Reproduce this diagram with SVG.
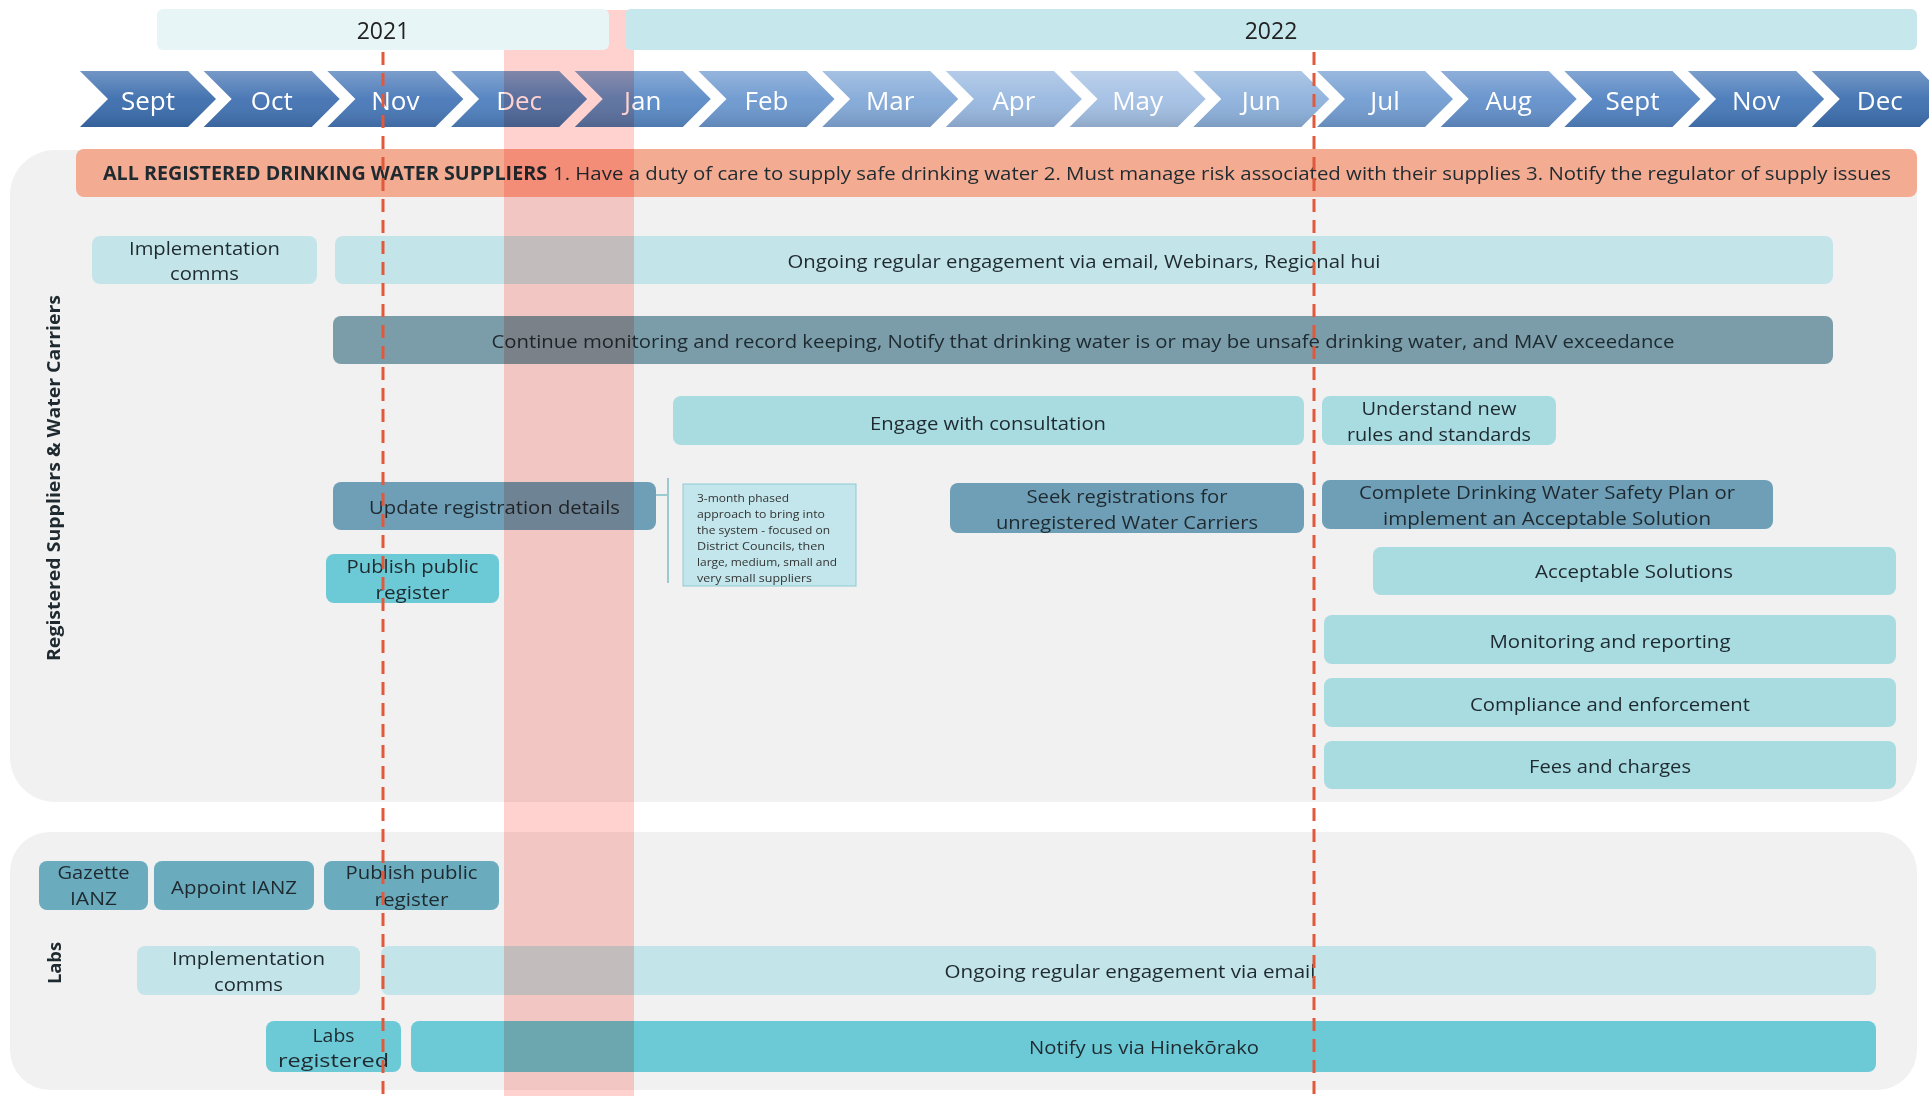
<svg xmlns="http://www.w3.org/2000/svg" width="1929" height="1096" viewBox="0 0 1929 1096">
<style>
text{font-family:"Open Sans","Liberation Sans",sans-serif;fill:#1f2a30;}
.t{font-size:18px;text-anchor:middle;dominant-baseline:central;}
.m{font-size:26px;fill:#ffffff;text-anchor:middle;dominant-baseline:central;}
.y{font-size:23px;fill:#222;text-anchor:middle;dominant-baseline:central;}
.n{font-size:11.5px;dominant-baseline:central;fill:#333;}
.light{fill:#c3e5e9;}
.teal{fill:#a8dce1;}
.dark{fill:#7a9da9;}
.mid{fill:#6e9fb6;}
.cyan{fill:#6ccad6;}
.lab{fill:#6aabbd;}
.dash{stroke:#e2583a;stroke-width:3;stroke-dasharray:13 8;fill:none;}
.band{fill:#ffd2cf;mix-blend-mode:multiply;}
</style>
<defs>
<linearGradient id="shine" x1="0" y1="0" x2="0" y2="1">
<stop offset="0" stop-color="#ffffff" stop-opacity="0.28"/>
<stop offset="0.5" stop-color="#ffffff" stop-opacity="0.05"/>
<stop offset="1" stop-color="#000000" stop-opacity="0.12"/>
</linearGradient>
<path id="chev" d="M0,71 L108,71 L136,99 L108,127 L0,127 L28,99 Z"/>
</defs>
<rect width="1929" height="1096" fill="#ffffff"/>
<g id="panels">
<rect x="10" y="150" width="1907" height="652" rx="45" fill="#f1f1f1"/>
<rect x="10" y="832" width="1907" height="258" rx="40" fill="#f1f1f1"/>
</g>
<g id="months">
<g transform="translate(80,0)"><use href="#chev" fill="#3b6dad"/><use href="#chev" fill="url(#shine)"/><text class="m" x="68" y="100">Sept</text></g>
<g transform="translate(203.7,0)"><use href="#chev" fill="#4272b2"/><use href="#chev" fill="url(#shine)"/><text class="m" x="68" y="100">Oct</text></g>
<g transform="translate(327.4,0)"><use href="#chev" fill="#4878b8"/><use href="#chev" fill="url(#shine)"/><text class="m" x="68" y="100">Nov</text></g>
<g transform="translate(451.1,0)"><use href="#chev" fill="#4f80bf"/><use href="#chev" fill="url(#shine)"/><text class="m" x="68" y="100">Dec</text></g>
<g transform="translate(574.8,0)"><use href="#chev" fill="#5a8ac6"/><use href="#chev" fill="url(#shine)"/><text class="m" x="68" y="100">Jan</text></g>
<g transform="translate(698.5,0)"><use href="#chev" fill="#6c98cf"/><use href="#chev" fill="url(#shine)"/><text class="m" x="68" y="100">Feb</text></g>
<g transform="translate(822.2,0)"><use href="#chev" fill="#83a9d8"/><use href="#chev" fill="url(#shine)"/><text class="m" x="68" y="100">Mar</text></g>
<g transform="translate(945.9,0)"><use href="#chev" fill="#98b8e0"/><use href="#chev" fill="url(#shine)"/><text class="m" x="68" y="100">Apr</text></g>
<g transform="translate(1069.6,0)"><use href="#chev" fill="#a2bfe3"/><use href="#chev" fill="url(#shine)"/><text class="m" x="68" y="100">May</text></g>
<g transform="translate(1193.3,0)"><use href="#chev" fill="#8db1dc"/><use href="#chev" fill="url(#shine)"/><text class="m" x="68" y="100">Jun</text></g>
<g transform="translate(1317,0)"><use href="#chev" fill="#729dd2"/><use href="#chev" fill="url(#shine)"/><text class="m" x="68" y="100">Jul</text></g>
<g transform="translate(1440.7,0)"><use href="#chev" fill="#6390cb"/><use href="#chev" fill="url(#shine)"/><text class="m" x="68" y="100">Aug</text></g>
<g transform="translate(1564.4,0)"><use href="#chev" fill="#5283c2"/><use href="#chev" fill="url(#shine)"/><text class="m" x="68" y="100">Sept</text></g>
<g transform="translate(1688.1,0)"><use href="#chev" fill="#4679b9"/><use href="#chev" fill="url(#shine)"/><text class="m" x="68" y="100">Nov</text></g>
<g transform="translate(1811.8,0)"><use href="#chev" fill="#3e70b0"/><use href="#chev" fill="url(#shine)"/><text class="m" x="68" y="100">Dec</text></g>
</g>
<g id="header">
<rect x="76" y="149" width="1841" height="48" rx="8" fill="#f3ab92"/>
<text x="103" y="173" font-size="19" font-weight="bold" dominant-baseline="central" textLength="444" lengthAdjust="spacingAndGlyphs">ALL REGISTERED DRINKING WATER SUPPLIERS</text>
<text x="553" y="173" font-size="19" dominant-baseline="central" textLength="1338" lengthAdjust="spacingAndGlyphs">1. Have a duty of care to supply safe drinking water 2. Must manage risk associated with their supplies 3. Notify the regulator of supply issues</text>
</g>
<g id="lane-labels">
<text transform="translate(53,478) rotate(-90)" font-size="18" font-weight="bold" text-anchor="middle" dominant-baseline="central" textLength="366" lengthAdjust="spacingAndGlyphs">Registered Suppliers &amp; Water Carriers</text>
<text transform="translate(54,963) rotate(-90)" font-size="18" font-weight="bold" text-anchor="middle" dominant-baseline="central" textLength="42" lengthAdjust="spacingAndGlyphs">Labs</text>
</g>
<g id="impl-comms-suppliers"><rect class="light" x="92" y="236" width="225" height="48" rx="8"/><text class="t" x="204.5" y="248" textLength="151" lengthAdjust="spacingAndGlyphs">Implementation</text><text class="t" x="204.5" y="273" textLength="69" lengthAdjust="spacingAndGlyphs">comms</text></g>
<g id="ongoing-suppliers"><rect class="light" x="335" y="236" width="1498" height="48" rx="8"/><text class="t" x="1084" y="261" textLength="593" lengthAdjust="spacingAndGlyphs">Ongoing regular engagement via email, Webinars, Regional hui</text></g>
<g id="continue-monitoring"><rect class="dark" x="333" y="316" width="1500" height="48" rx="8"/><text class="t" x="1083" y="341" textLength="1183" lengthAdjust="spacingAndGlyphs">Continue monitoring and record keeping, Notify that drinking water is or may be unsafe drinking water, and MAV exceedance</text></g>
<g id="engage"><rect class="teal" x="673" y="396" width="631" height="49" rx="8"/><text class="t" x="988" y="423" textLength="236" lengthAdjust="spacingAndGlyphs">Engage with consultation</text></g>
<g id="understand"><rect class="teal" x="1322" y="396" width="234" height="49" rx="8"/><text class="t" x="1439" y="408" textLength="155" lengthAdjust="spacingAndGlyphs">Understand new</text><text class="t" x="1439" y="434" textLength="184" lengthAdjust="spacingAndGlyphs">rules and standards</text></g>
<g id="update-registration"><rect class="mid" x="333" y="482" width="323" height="48" rx="8"/><text class="t" x="494.5" y="507" textLength="251" lengthAdjust="spacingAndGlyphs">Update registration details</text></g>
<g id="phased-note">
<rect x="683" y="484" width="173" height="102" fill="#c2e6eb" stroke="#8fcad2" stroke-width="1"/>
<text class="n" x="697" y="497" textLength="92" lengthAdjust="spacingAndGlyphs">3-month phased</text>
<text class="n" x="697" y="513" textLength="128" lengthAdjust="spacingAndGlyphs">approach to bring into</text>
<text class="n" x="697" y="529" textLength="133" lengthAdjust="spacingAndGlyphs">the system - focused on</text>
<text class="n" x="697" y="545" textLength="128" lengthAdjust="spacingAndGlyphs">District Councils, then</text>
<text class="n" x="697" y="561" textLength="140" lengthAdjust="spacingAndGlyphs">large, medium, small and</text>
<text class="n" x="697" y="577" textLength="115" lengthAdjust="spacingAndGlyphs">very small suppliers</text>
</g>
<g id="seek-registrations"><rect class="mid" x="950" y="483" width="354" height="50" rx="8"/><text class="t" x="1127" y="496" textLength="201" lengthAdjust="spacingAndGlyphs">Seek registrations for</text><text class="t" x="1127" y="522" textLength="262" lengthAdjust="spacingAndGlyphs">unregistered Water Carriers</text></g>
<g id="complete-dwsp"><rect class="mid" x="1322" y="480" width="451" height="49" rx="8"/><text class="t" x="1547" y="492" textLength="376" lengthAdjust="spacingAndGlyphs">Complete Drinking Water Safety Plan or</text><text class="t" x="1547" y="518" textLength="328" lengthAdjust="spacingAndGlyphs">implement an Acceptable Solution</text></g>
<g id="publish-register-suppliers"><rect class="cyan" x="326" y="554" width="173" height="49" rx="8"/><text class="t" x="412.5" y="566" textLength="132" lengthAdjust="spacingAndGlyphs">Publish public</text><text class="t" x="412.5" y="592" textLength="74" lengthAdjust="spacingAndGlyphs">register</text></g>
<g id="acceptable-solutions"><rect class="teal" x="1373" y="547" width="523" height="48" rx="8"/><text class="t" x="1634" y="571" textLength="198" lengthAdjust="spacingAndGlyphs">Acceptable Solutions</text></g>
<g id="monitoring-reporting"><rect class="teal" x="1324" y="615" width="572" height="49" rx="8"/><text class="t" x="1610" y="641" textLength="241" lengthAdjust="spacingAndGlyphs">Monitoring and reporting</text></g>
<g id="compliance"><rect class="teal" x="1324" y="678" width="572" height="49" rx="8"/><text class="t" x="1610" y="704" textLength="280" lengthAdjust="spacingAndGlyphs">Compliance and enforcement</text></g>
<g id="fees"><rect class="teal" x="1324" y="741" width="572" height="48" rx="8"/><text class="t" x="1610" y="766" textLength="162" lengthAdjust="spacingAndGlyphs">Fees and charges</text></g>
<g id="gazette-ianz"><rect class="lab" x="39" y="861" width="109" height="49" rx="8"/><text class="t" x="93.5" y="872" textLength="72" lengthAdjust="spacingAndGlyphs">Gazette</text><text class="t" x="93.5" y="898" textLength="47" lengthAdjust="spacingAndGlyphs">IANZ</text></g>
<g id="appoint-ianz"><rect class="lab" x="154" y="861" width="160" height="49" rx="8"/><text class="t" x="234" y="887" textLength="126" lengthAdjust="spacingAndGlyphs">Appoint IANZ</text></g>
<g id="publish-register-labs"><rect class="lab" x="324" y="861" width="175" height="49" rx="8"/><text class="t" x="411.5" y="872" textLength="132" lengthAdjust="spacingAndGlyphs">Publish public</text><text class="t" x="411.5" y="899" textLength="74" lengthAdjust="spacingAndGlyphs">register</text></g>
<g id="impl-comms-labs"><rect class="light" x="137" y="946" width="223" height="49" rx="8"/><text class="t" x="248.5" y="958" textLength="153" lengthAdjust="spacingAndGlyphs">Implementation</text><text class="t" x="248.5" y="984" textLength="69" lengthAdjust="spacingAndGlyphs">comms</text></g>
<g id="ongoing-labs"><rect class="light" x="381" y="946" width="1495" height="49" rx="8"/><text class="t" x="1130" y="971" textLength="371" lengthAdjust="spacingAndGlyphs">Ongoing regular engagement via email</text></g>
<g id="labs-registered"><rect class="cyan" x="266" y="1021" width="135" height="51" rx="8"/><text class="t" x="333.5" y="1035" textLength="42" lengthAdjust="spacingAndGlyphs">Labs</text><text class="t" x="333.5" y="1060" textLength="111" lengthAdjust="spacingAndGlyphs">registered</text></g>
<g id="notify-hinekorako"><rect class="cyan" x="411" y="1021" width="1465" height="51" rx="8"/><text class="t" x="1144" y="1047" textLength="230" lengthAdjust="spacingAndGlyphs">Notify us via Hinekōrako</text></g>
<g id="connectors">
<path d="M656,495 L668,495 M668,478 L668,583" stroke="#9cc8cf" stroke-width="2" fill="none"/>
</g>
<rect id="holiday-band" class="band" x="504" y="10" width="130" height="1086"/>
<g id="years">
<rect x="157" y="9" width="452" height="41" rx="6" fill="#e8f5f7"/>
<text class="y" x="383" y="30">2021</text>
<rect x="625" y="9" width="1292" height="41" rx="6" fill="#c6e7eb"/>
<text class="y" x="1271" y="30">2022</text>
</g>
<g id="milestones">
<line class="dash" x1="383" y1="52" x2="383" y2="1096"/>
<line class="dash" x1="1314" y1="52" x2="1314" y2="1096"/>
</g>
</svg>
